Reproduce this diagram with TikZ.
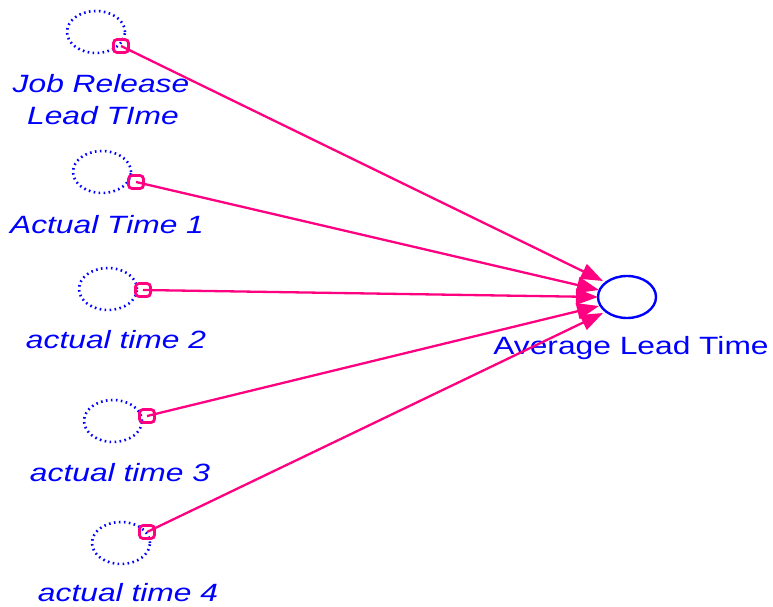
\documentclass[tikz,border=0pt]{standalone}
\usepackage{fontspec}
\setmainfont{Liberation Sans}
\usetikzlibrary{arrows.meta,shapes.geometric}
\definecolor{vblue}{RGB}{0,0,255}
\definecolor{vpink}{RGB}{255,0,128}
\begin{document}
\begin{tikzpicture}[x=1pt,y=-1pt,
  cloud/.style={draw=vblue,line width=2.6pt,dash pattern=on 1.6pt off 3.4pt,ellipse,minimum width=58pt,minimum height=42pt,inner sep=0pt},
  aux/.style={draw=vblue,line width=2.4pt,ellipse,minimum width=58pt,minimum height=42pt,inner sep=0pt},
  pinbox/.style={draw=vpink,line width=2.8pt,rounded corners=3.5pt,minimum width=15pt,minimum height=13pt,inner sep=0pt},
  lab/.style={text=vblue,font=\fontsize{25}{30}\selectfont\itshape,xscale=1.27,inner sep=0pt,align=center},
  labup/.style={text=vblue,font=\fontsize{25}{30}\selectfont,xscale=1.27,inner sep=0pt},
  link/.style={draw=vpink,line width=2.3pt,-{Triangle[length=22pt,width=16pt]}}]
\useasboundingbox (0,0) rectangle (773,607);
\node[cloud] (c1) at (96,32) {};
\node[cloud] (c2) at (102,172) {};
\node[cloud] (c3) at (108,289) {};
\node[cloud] (c4) at (113,421) {};
\node[cloud] (c5) at (121,543) {};
\node[aux] (avg) at (627,297) {};
\node[pinbox] (m1) at (121,46) {};
\node[pinbox] (m2) at (136,182) {};
\node[pinbox] (m3) at (143,290) {};
\node[pinbox] (m4) at (147,416) {};
\node[pinbox] (m5) at (147,532) {};
\node[lab] (l1a) at (101,84) {Job Release};
\node[lab] (l1b) at (103,116) {Lead TIme};
\node[lab] (l2) at (107,225) {Actual Time 1};
\node[lab] (l3) at (116,340) {actual time 2};
\node[lab] (l4) at (120,473) {actual time 3};
\node[lab] (l5) at (128,593) {actual time 4};
\node[labup] (la) at (631,348) {Average Lead Time};
\coordinate (t1) at (603,281);
\coordinate (t2) at (599,290);
\coordinate (t3) at (598,297);
\coordinate (t4) at (599,306);
\coordinate (t5) at (603,313);
\draw[link] (m1.center) -- (t1);
\draw[link] (m2.center) -- (t2);
\draw[link] (m3.center) -- (t3);
\draw[link] (m4.center) -- (t4);
\draw[link] (m5.center) -- (t5);
\end{tikzpicture}
\end{document}
